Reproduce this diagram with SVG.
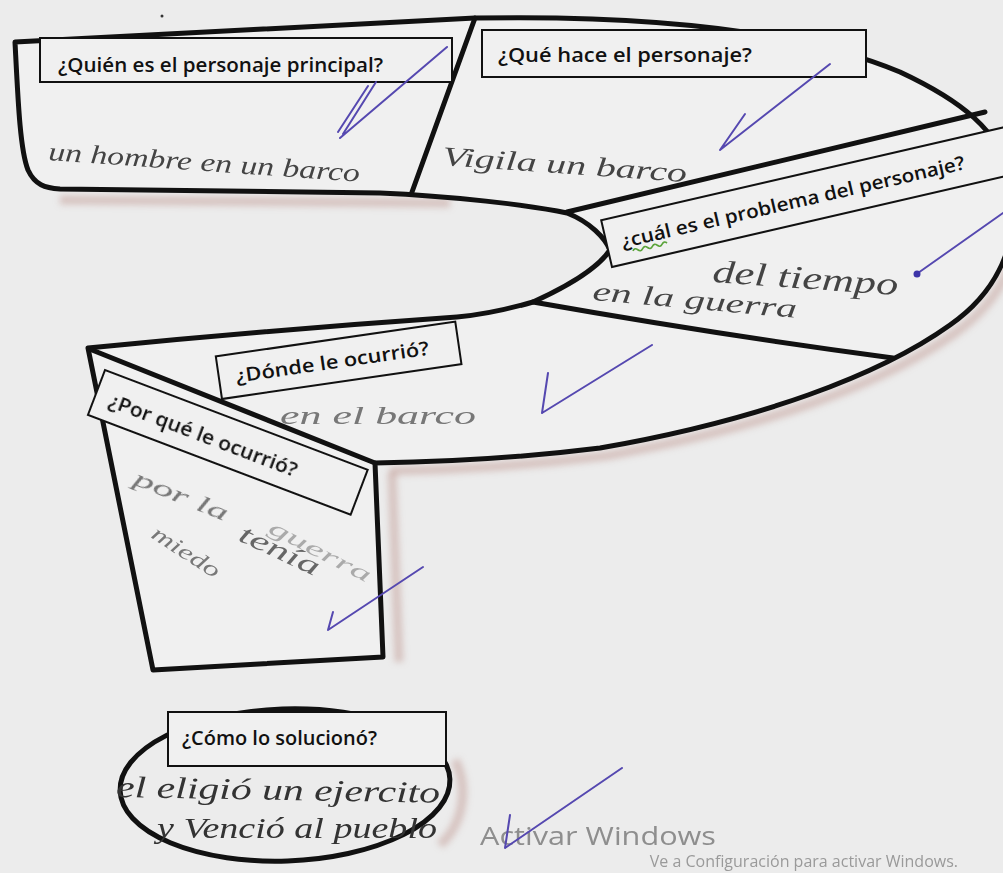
<svg xmlns="http://www.w3.org/2000/svg" width="1003" height="873" viewBox="0 0 1003 873">
<defs>
<style>
.bg{fill:#ececec}
.shape{fill:#f0f0f0;stroke:#111;stroke-width:5;stroke-linejoin:round;stroke-linecap:round}
.div{fill:none;stroke:#111;stroke-width:5;stroke-linecap:round}
.box{fill:#f0f0f0;stroke:#111;stroke-width:2}
.q{font-family:"Open Sans","Noto Sans",sans-serif;font-weight:600;font-size:19px;fill:#111}
.hw{font-family:"Liberation Serif","DejaVu Serif",serif;font-style:italic;fill:#444}
.pencil{font-family:"Liberation Serif","DejaVu Serif",serif;font-style:italic;fill:#777}
.chk{fill:none;stroke:#5548b0;stroke-width:2;stroke-linecap:round;stroke-linejoin:round}
.wm{font-family:"Open Sans","Noto Sans",sans-serif;fill:#8e8e8e}
.sh{fill:none;stroke:#c4a29d;stroke-width:9;opacity:.55}
</style>
<filter id="bl" x="-10%" y="-10%" width="120%" height="120%"><feGaussianBlur stdDeviation="3"/></filter>
</defs>
<rect class="bg" x="0" y="0" width="1003" height="873"/>
<circle cx="162" cy="16" r="1.5" fill="#333"/>

<g id="shadows" filter="url(#bl)">
<path class="sh" d="M1016,200 C1022,255 1004,298 955,333 C885,383 765,428 605,456 C525,466 445,470 390,471"/>
<path class="sh" d="M392,472 L399,662"/>
<path class="sh" d="M60,200 L450,203" stroke-width="4"/>
<path class="sh" d="M455,760 C470,790 462,825 440,845"/>
</g>

<g id="outline">
<path class="shape" d="M15,42 L475,18 C650,15 800,30 900,72 C960,100 1000,130 1012,180 C1020,240 1000,290 950,325 C880,375 760,420 600,448 C520,458 440,462 375,463 L383,657 L153,670 L88,348 Q270,330 457,317 C480,315 505,310 533,302 C575,283 600,265 610,250 C605,238 590,222 567,213 C530,205 450,196 380,193 L60,189 C45,188 35,185 28,170 C20,150 18,100 15,42 Z"/>
</g>

<g id="connectors">
<path class="div" d="M475,18 L412,192"/>
<path class="div" d="M985,112 L567,212"/>
<path class="div" d="M533,302 Q720,335 893,358"/>
<path class="div" d="M92,350 L375,463"/>
</g>

<g id="n1-quien">
<rect class="box" x="40" y="38" width="412" height="44"/>
<text class="q" x="58" y="72" textLength="325" lengthAdjust="spacingAndGlyphs">¿Quién es el personaje principal?</text>
<text class="hw" x="48" y="160" font-size="26" textLength="312" lengthAdjust="spacingAndGlyphs" transform="rotate(4 48 160)">un hombre en un barco</text>
<path class="chk" d="M447,47 L340,138 M376,82 L343,134 M368,86 L338,132"/>
</g>

<g id="n2-que-hace">
<rect class="box" x="482" y="30" width="384" height="47"/>
<text class="q" x="498" y="62" textLength="254" lengthAdjust="spacingAndGlyphs">¿Qué hace  el personaje?</text>
<text class="hw" x="442" y="165" font-size="27" textLength="245" lengthAdjust="spacingAndGlyphs" transform="rotate(4 442 165)">Vigila un barco</text>
<path class="chk" d="M830,64 L720,150 M745,114 L720,150"/>
</g>

<g id="n3-problema">
<g transform="translate(612,267) rotate(-13)">
<rect class="box" x="0" y="-48" width="440" height="48"/>
<text class="q" x="15" y="-16" textLength="352" lengthAdjust="spacingAndGlyphs">¿cuál es el problema del personaje?</text>
<path d="M24,-11 q2.5,-3 5,0 t5,0 t5,0 t5,0 t5,0 t5,0 t5,0" fill="none" stroke="#5aa33a" stroke-width="1.6"/>
</g>
<text class="hw" x="712" y="282" font-size="32" textLength="186" lengthAdjust="spacingAndGlyphs" transform="rotate(4 712 282)">del tiempo</text>
<text class="hw" x="592" y="300" font-size="27" textLength="205" lengthAdjust="spacingAndGlyphs" transform="rotate(5 592 300)">en la guerra</text>
<path class="chk" d="M1003,213 L918,273"/>
<circle cx="917" cy="274" r="3.5" fill="#3d35a8"/>
</g>

<g id="n4-donde">
<g transform="translate(222,399) rotate(-8.3)">
<rect class="box" x="0" y="-43" width="242" height="43"/>
<text class="q" x="17" y="-14" textLength="195" lengthAdjust="spacingAndGlyphs">¿Dónde le ocurrió?</text>
</g>
<text class="pencil" x="280" y="424" font-size="25" textLength="196" lengthAdjust="spacingAndGlyphs">en el barco</text>
<path class="chk" d="M652,345 L542,413 M548,373 L542,413"/>
</g>

<g id="n5-por-que">
<g transform="translate(105,370) rotate(20.8)">
<rect class="box" x="0" y="0" width="281" height="48"/>
<text class="q" x="15" y="33" textLength="200" lengthAdjust="spacingAndGlyphs">¿Por qué le ocurrió?</text>
</g>
<text class="pencil" x="132" y="484" font-size="24" textLength="100" lengthAdjust="spacingAndGlyphs" transform="rotate(22 132 484)">por la</text>
<text class="pencil" x="267" y="532" font-size="22" style="fill:#aaa" textLength="112" lengthAdjust="spacingAndGlyphs" transform="rotate(27 267 532)">guerra</text>
<text class="pencil" x="237" y="540" font-size="27" style="fill:#666" textLength="86" lengthAdjust="spacingAndGlyphs" transform="rotate(25 237 540)">tenía</text>
<text class="pencil" x="150" y="537" font-size="22" textLength="77" lengthAdjust="spacingAndGlyphs" transform="rotate(33 150 537)">miedo</text>
<path class="chk" d="M423,567 L328,630 M333,612 L328,630"/>
</g>

<g id="n6-como">
<ellipse cx="285" cy="785" rx="165" ry="76" fill="none" stroke="#111" stroke-width="5" transform="rotate(-2 285 785)"/>
<rect class="box" x="168" y="712" width="278" height="54"/>
<text class="q" x="182" y="745" textLength="195" lengthAdjust="spacingAndGlyphs">¿Cómo lo solucionó?</text>
<text class="hw" x="116" y="797" font-size="30" style="fill:#333" textLength="324" lengthAdjust="spacingAndGlyphs" transform="rotate(1 116 797)">el eligió un ejercito</text>
<text class="hw" x="157" y="838" font-size="30" style="fill:#333" textLength="280" lengthAdjust="spacingAndGlyphs">y Venció al pueblo</text>
</g>

<g id="watermark">
<text class="wm" x="480" y="845" font-size="26" textLength="236" lengthAdjust="spacingAndGlyphs">Activar Windows</text>
<text class="wm" x="958" y="867" font-size="16" text-anchor="end" style="fill:#9a9a9a">Ve a Configuración para activar Windows.</text>
</g>
<path class="chk" d="M622,768 L505,848 M510,815 L505,848"/>
</svg>
